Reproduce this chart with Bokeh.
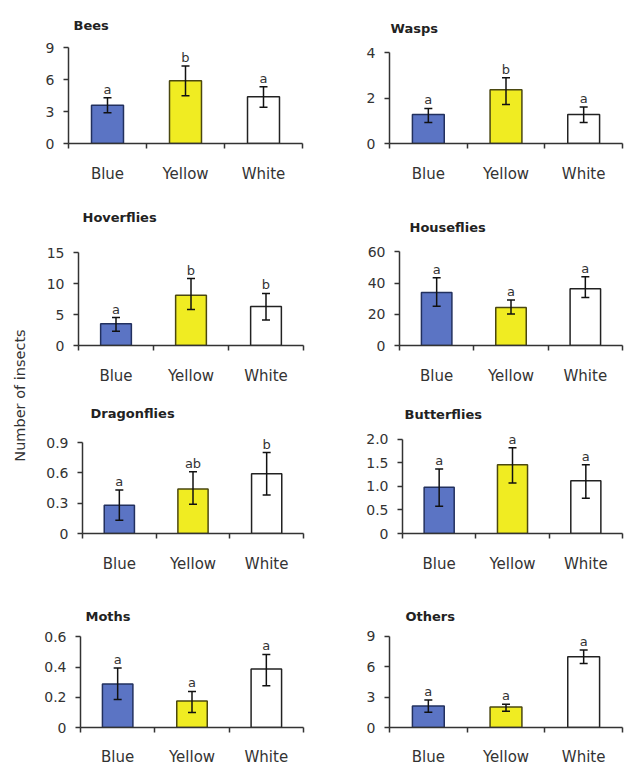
import math
from bokeh.plotting import figure
from bokeh.layouts import row, column
from bokeh.models import (Range1d, FixedTicker, Whisker, TeeHead, ColumnDataSource,
                          Label, LabelSet)
from bokeh.core.properties import value
from bokeh.embed import file_html
from bokeh.resources import INLINE

# ---------------- data ----------------
categories = ["Blue", "Yellow", "White"]
y_axis_title = "Number of insects"

bees_mean = [3.6, 5.9, 4.4]
bees_upper = [4.3, 7.3, 5.35]
bees_lower = [2.9, 4.5, 3.4]
bees_letters = ["a", "b", "a"]
bees_ticks = ["0", "3", "6", "9"]

wasps_mean = [1.27, 2.36, 1.27]
wasps_upper = [1.54, 2.89, 1.6]
wasps_lower = [0.92, 1.71, 0.92]
wasps_letters = ["a", "b", "a"]
wasps_ticks = ["0", "2", "4"]

hoverflies_mean = [3.5, 8.1, 6.3]
hoverflies_upper = [4.5, 10.8, 8.4]
hoverflies_lower = [2.3, 5.8, 4.1]
hoverflies_letters = ["a", "b", "b"]
hoverflies_ticks = ["0", "5", "10", "15"]

houseflies_mean = [33.9, 24.4, 36.4]
houseflies_upper = [43.4, 29.2, 44.0]
houseflies_lower = [25.1, 20.2, 30.8]
houseflies_letters = ["a", "a", "a"]
houseflies_ticks = ["0", "20", "40", "60"]

dragonflies_mean = [0.28, 0.44, 0.59]
dragonflies_upper = [0.43, 0.61, 0.80]
dragonflies_lower = [0.13, 0.29, 0.38]
dragonflies_letters = ["a", "ab", "b"]
dragonflies_ticks = ["0", "0.3", "0.6", "0.9"]

butterflies_mean = [0.98, 1.46, 1.12]
butterflies_upper = [1.37, 1.82, 1.46]
butterflies_lower = [0.58, 1.07, 0.75]
butterflies_letters = ["a", "a", "a"]
butterflies_ticks = ["0", "0.5", "1.0", "1.5", "2.0"]

moths_mean = [0.287, 0.175, 0.387]
moths_upper = [0.394, 0.239, 0.483]
moths_lower = [0.185, 0.10, 0.277]
moths_letters = ["a", "a", "a"]
moths_ticks = ["0", "0.2", "0.4", "0.6"]

others_mean = [2.13, 2.03, 6.99]
others_upper = [2.73, 2.3, 7.67]
others_lower = [1.5, 1.6, 6.33]
others_letters = ["a", "a", "a"]
others_ticks = ["0", "3", "6", "9"]

# ---------------- style ----------------
FONT = "DejaVu Sans"
bar_fill = ["#5B74C4", "#F0EC22", "#FFFFFF"]
bar_line = ["#22305E", "#4A4710", "#222222"]
TEXT_COLOR = "#333333"
AXIS_COLOR = "#333333"

# geometry: (fig_w, fig_h, left, right, top_of_axis, bottom, title_dx, title_dy, xlabel_standoff)
panels = [
    ("Bees", bees_mean, bees_upper, bees_lower, bees_letters, bees_ticks,
     (276, 200, 32, 10, 48, 55, 5, 22, 16)),
    ("Wasps", wasps_mean, wasps_upper, wasps_lower, wasps_letters, wasps_ticks,
     (312, 200, 77, 2, 52, 57, 1, 24, 16)),
    ("Hoverflies", hoverflies_mean, hoverflies_upper, hoverflies_lower, hoverflies_letters, hoverflies_ticks,
     (276, 200, 42, 9, 52, 55, 4, 35, 16)),
    ("Houseflies", houseflies_mean, houseflies_upper, houseflies_lower, houseflies_letters, houseflies_ticks,
     (312, 200, 87, 2, 52, 53, 10, 24, 16)),
    ("Dragonflies", dragonflies_mean, dragonflies_upper, dragonflies_lower, dragonflies_letters, dragonflies_ticks,
     (276, 190, 46, 9, 42, 57, 8, 29, 16)),
    ("Butterflies", butterflies_mean, butterflies_upper, butterflies_lower, butterflies_letters, butterflies_ticks,
     (312, 190, 90, 2, 39, 56, 2, 25, 16)),
    ("Moths", moths_mean, moths_upper, moths_lower, moths_letters, moths_ticks,
     (276, 178, 44, 9, 48, 36, 5, 20, 15)),
    ("Others", others_mean, others_upper, others_lower, others_letters, others_ticks,
     (312, 178, 77, 2, 48, 35, 16, 20, 15)),
]


def make_panel(title, mean, upper, lower, letters, ticks, geom):
    fw, fh, bl, br, bt, bb, t_dx, t_dy, xl_standoff = geom
    ytick_vals = [float(t) for t in ticks]
    xs = [i + 1 for i in range(len(categories))]
    bounds = [i + 0.5 for i in range(len(categories) + 1)]
    x0, x1 = 0.5, len(categories) + 0.5
    ymax = max(ytick_vals)
    # the frame reaches the top of the figure so titles and letters are not clipped;
    # the axis is bounded to [0, ymax] and the range is stretched to keep the scale.
    frame_h = fh - bb
    data_h = frame_h - bt
    y_end = ymax * frame_h / data_h

    p = figure(width=fw, height=fh, output_backend="svg", toolbar_location=None,
               x_range=Range1d(x0, x1), y_range=Range1d(0, y_end),
               min_border_left=bl, min_border_right=br,
               min_border_top=0, min_border_bottom=bb)
    p.outline_line_color = None
    p.grid.visible = False
    p.background_fill_color = "white"
    p.border_fill_color = "white"

    # panel title, anchored at the top-left corner of the value axis
    p.add_layout(Label(x=x0, y=ymax, x_offset=t_dx, y_offset=t_dy, text=title,
                       text_align="left", text_baseline="alphabetic",
                       text_font=FONT, text_font_size="13px", text_font_style="bold",
                       text_color="#222222"))

    src = ColumnDataSource(dict(x=xs, mean=mean, upper=upper, lower=lower,
                                letter=letters, fill=bar_fill, line=bar_line))
    p.vbar(x="x", top="mean", bottom=0, width=0.41, source=src,
           fill_color="fill", line_color="line", line_width=1.5)

    wh = Whisker(source=src, base="x", upper="upper", lower="lower",
                 line_color="#111111", line_width=1.5, level="annotation",
                 upper_head=TeeHead(size=8, line_color="#111111", line_width=1.5),
                 lower_head=TeeHead(size=8, line_color="#111111", line_width=1.5))
    p.add_layout(wh)

    p.add_layout(LabelSet(x="x", y="upper", text="letter", source=src, y_offset=1,
                          text_align="center", text_baseline="bottom",
                          text_font=value(FONT), text_font_size=value("13px"),
                          text_color=TEXT_COLOR))

    # x axis
    xa = p.xaxis[0]
    xa.ticker = FixedTicker(ticks=xs, minor_ticks=bounds)
    xa.major_label_overrides = {x: c for x, c in zip(xs, categories)}
    xa.major_tick_line_color = None
    xa.major_tick_out = 0
    xa.major_tick_in = 0
    xa.minor_tick_out = 5
    xa.minor_tick_in = 0
    xa.minor_tick_line_color = AXIS_COLOR
    xa.minor_tick_line_width = 1.5
    xa.axis_line_color = AXIS_COLOR
    xa.axis_line_width = 1.5
    xa.major_label_standoff = xl_standoff
    xa.major_label_text_font = FONT
    xa.major_label_text_font_size = "15px"
    xa.major_label_text_color = TEXT_COLOR

    # y axis
    ya = p.yaxis[0]
    ya.bounds = (0, ymax)
    ya.ticker = FixedTicker(ticks=ytick_vals, minor_ticks=[])
    ya.major_label_overrides = {v: t for v, t in zip(ytick_vals, ticks)}
    ya.major_tick_out = 5
    ya.major_tick_in = 0
    ya.major_tick_line_color = AXIS_COLOR
    ya.major_tick_line_width = 1.5
    ya.minor_tick_line_color = None
    ya.axis_line_color = AXIS_COLOR
    ya.axis_line_width = 1.5
    ya.major_label_standoff = 9
    ya.major_label_text_font = FONT
    ya.major_label_text_font_size = "14px"
    ya.major_label_text_color = TEXT_COLOR
    return p


figs = [make_panel(*pnl) for pnl in panels]
total_h = sum(pnl[6][1] for pnl in panels[::2])

lab = figure(width=36, height=total_h, output_backend="svg", toolbar_location=None,
             x_range=Range1d(0, 36), y_range=Range1d(0, total_h),
             x_axis_location=None, y_axis_location=None, min_border=0)
lab.outline_line_color = None
lab.grid.visible = False
lab.add_layout(Label(x=19, y=total_h - 395, text=y_axis_title, angle=math.pi / 2,
                     text_align="center", text_baseline="middle",
                     text_font=FONT, text_font_size="14.5px", text_color=TEXT_COLOR))

grid = column(row(figs[0], figs[1]), row(figs[2], figs[3]),
              row(figs[4], figs[5]), row(figs[6], figs[7]))
layout = row(lab, grid)

open("out.html", "w").write(file_html(layout, INLINE))
